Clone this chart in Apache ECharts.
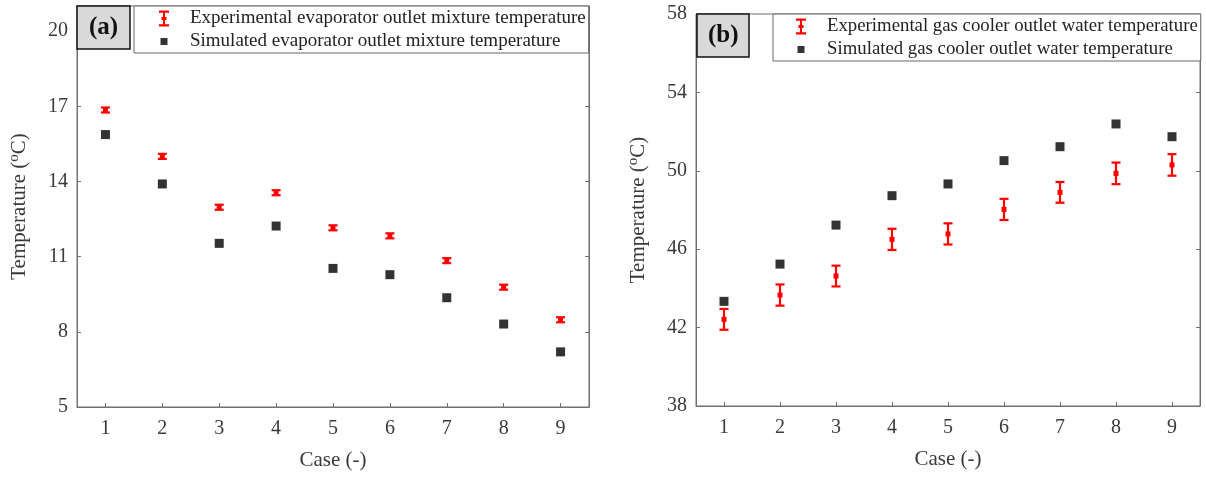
<!DOCTYPE html>
<html>
<head>
<meta charset="utf-8">
<script src="https://cdn.jsdelivr.net/npm/echarts@6/dist/echarts.min.js"></script>
<style>
  html, body { margin: 0; padding: 0; background: #fff; }
  #chart { width: 1206px; height: 477px; }
</style>
</head>
<body>
<div id="chart"></div>
<script>
// Test cases on the horizontal axis
const caseLabels = ['1', '2', '3', '4', '5', '6', '7', '8', '9'];

// (a) Evaporator outlet mixture temperature (°C)
const evapExperimental = [16.85, 15.0, 12.97, 13.55, 12.15, 11.83, 10.84, 9.78, 8.48];
const evapUncertainty  = [0.1, 0.1, 0.1, 0.1, 0.1, 0.1, 0.1, 0.1, 0.1];
const evapSimulated    = [15.87, 13.9, 11.53, 12.22, 10.53, 10.28, 9.36, 8.31, 7.2];

// (b) Gas cooler outlet water temperature (°C)
const gcExperimental = [42.42, 43.66, 44.63, 46.5, 46.78, 48.03, 48.9, 49.87, 50.3];
const gcUncertainty  = [0.53, 0.54, 0.53, 0.54, 0.54, 0.54, 0.53, 0.55, 0.55];
const gcSimulated    = [43.34, 45.24, 47.23, 48.73, 49.33, 50.52, 51.23, 52.39, 51.74];

// Value-axis ranges and tick spacing
const evapAxis = { min: 5, max: 21, interval: 3 };
const gcAxis   = { min: 38, max: 58, interval: 4 };

const evapNames = ['Experimental evaporator outlet mixture temperature',
                   'Simulated evaporator outlet mixture temperature'];
const gcNames   = ['Experimental gas cooler outlet water temperature',
                   'Simulated gas cooler outlet water temperature'];

const SERIF = 'Liberation Serif, Times New Roman, serif';
const RED = '#ff0000';
const AXIS_GREY = '#707070';
const TEXT_GREY = '#3a3a3a';

// Legend glyphs: an I-beam with a centre dot, and a small square in the same box
const errorIcon = 'path://M0,0H10V2.2H6V6.5H7.5V9.5H6V13.8H10V16H0V13.8H4V9.5H2.5V6.5H4V2.2H0Z';
const squareIcon = 'path://M0,0M10,16M1.5,4.5H8.5V11.5H1.5Z';

function errorRows(values, unc) {
  return values.map((v, i) => [i, v, +(v - unc[i]).toFixed(3), +(v + unc[i]).toFixed(3)]);
}

function renderErrorBar(params, api) {
  const x = api.value(0);
  const mid = api.coord([x, api.value(1)]);
  const lo = api.coord([x, api.value(2)]);
  const hi = api.coord([x, api.value(3)]);
  const cap = 4.5;
  const lineStyle = { stroke: RED, lineWidth: 2.2, fill: null };
  return {
    type: 'group',
    children: [
      { type: 'line', shape: { x1: hi[0], y1: hi[1], x2: lo[0], y2: lo[1] }, style: lineStyle },
      { type: 'line', shape: { x1: hi[0] - cap, y1: hi[1], x2: hi[0] + cap, y2: hi[1] }, style: lineStyle },
      { type: 'line', shape: { x1: lo[0] - cap, y1: lo[1], x2: lo[0] + cap, y2: lo[1] }, style: lineStyle },
      { type: 'rect', shape: { x: mid[0] - 2.5, y: mid[1] - 2.5, width: 5, height: 5 }, style: { fill: RED } }
    ]
  };
}

function caseAxis(gridIndex) {
  return {
    type: 'category',
    gridIndex: gridIndex,
    data: caseLabels,
    boundaryGap: true,
    name: 'Case (-)',
    nameLocation: 'middle',
    nameGap: 43,
    nameTextStyle: { fontFamily: SERIF, fontSize: 21, color: TEXT_GREY },
    axisLine: { show: true, lineStyle: { color: AXIS_GREY, width: 1 } },
    axisTick: { show: true, inside: true, alignWithLabel: true, length: 4, lineStyle: { color: AXIS_GREY } },
    axisLabel: { fontFamily: SERIF, fontSize: 20, color: TEXT_GREY, margin: 12 },
    splitLine: { show: false }
  };
}

function tempAxis(gridIndex, range, side) {
  const left = side === 'left';
  return {
    type: 'value',
    gridIndex: gridIndex,
    position: side,
    min: range.min,
    max: range.max,
    interval: range.interval,
    name: left ? 'Temperature ({sup|o}C)' : '',
    nameLocation: 'middle',
    nameRotate: 90,
    nameGap: 45,
    nameTextStyle: {
      fontFamily: SERIF, fontSize: 21, color: TEXT_GREY,
      rich: { sup: { fontFamily: SERIF, fontSize: 15, color: TEXT_GREY, padding: [0, 0, 10, 0] } }
    },
    axisLine: { show: true, lineStyle: { color: AXIS_GREY, width: 1 } },
    axisTick: { show: true, inside: true, length: 4, lineStyle: { color: AXIS_GREY } },
    axisLabel: { show: left, showMaxLabel: range.max % range.interval === range.min % range.interval,
                 fontFamily: SERIF, fontSize: 20, color: TEXT_GREY, margin: 9 },
    splitLine: { show: false }
  };
}

function panelTitle(text, left, top, padding) {
  return {
    text: text,
    left: left, top: top,
    padding: padding,
    backgroundColor: '#d9d9d9',
    borderColor: '#111',
    borderWidth: 1.5,
    textStyle: { fontFamily: SERIF, fontWeight: 'bold', fontSize: 25, lineHeight: 25, color: '#111' }
  };
}

function panelLegend(names, left, top, padLeft, fontSize) {
  return {
    orient: 'vertical',
    left: left, top: top,
    data: [{ name: names[0], icon: errorIcon }, { name: names[1], icon: squareIcon }],
    itemWidth: 42, itemHeight: 16, itemGap: 4,
    padding: [3, 3, 2, padLeft],
    borderColor: '#666', borderWidth: 1, backgroundColor: '#fff',
    selectedMode: false,
    textStyle: { fontFamily: SERIF, fontSize: fontSize, color: '#222' }
  };
}

const option = {
  animation: false,
  backgroundColor: '#fff',
  title: [
    panelTitle('(a)', 77, 6, [9, 12, 9, 12]),
    panelTitle('(b)', 697, 14, [9, 11, 9, 11])
  ],
  legend: [
    panelLegend(evapNames, 134, 6, 25, 19),
    panelLegend(gcNames, 773, 14, 23, 18.8)
  ],
  grid: [
    { left: 77, right: 617, top: 6, bottom: 70, show: true, borderColor: AXIS_GREY, borderWidth: 1 },
    { left: 696, right: 6, top: 14, bottom: 71, show: true, borderColor: AXIS_GREY, borderWidth: 1 }
  ],
  xAxis: [caseAxis(0), caseAxis(1)],
  yAxis: [
    tempAxis(0, evapAxis, 'left'),
    tempAxis(0, evapAxis, 'right'),
    tempAxis(1, gcAxis, 'left'),
    tempAxis(1, gcAxis, 'right')
  ],
  series: [
    {
      name: evapNames[0], type: 'custom', xAxisIndex: 0, yAxisIndex: 0,
      itemStyle: { color: RED },
      renderItem: renderErrorBar,
      encode: { x: 0, y: [1, 2, 3] },
      data: errorRows(evapExperimental, evapUncertainty), z: 3
    },
    {
      name: evapNames[1], type: 'scatter', xAxisIndex: 0, yAxisIndex: 0,
      symbol: 'rect', symbolSize: 9, itemStyle: { color: '#000' },
      data: evapSimulated, z: 4
    },
    {
      name: gcNames[0], type: 'custom', xAxisIndex: 1, yAxisIndex: 2,
      itemStyle: { color: RED },
      renderItem: renderErrorBar,
      encode: { x: 0, y: [1, 2, 3] },
      data: errorRows(gcExperimental, gcUncertainty), z: 3
    },
    {
      name: gcNames[1], type: 'scatter', xAxisIndex: 1, yAxisIndex: 2,
      symbol: 'rect', symbolSize: 9, itemStyle: { color: '#000' },
      data: gcSimulated, z: 4
    }
  ]
};

const chart = echarts.init(document.getElementById('chart'), null, { renderer: 'canvas' });
chart.setOption(option);
</script>
</body>
</html>
